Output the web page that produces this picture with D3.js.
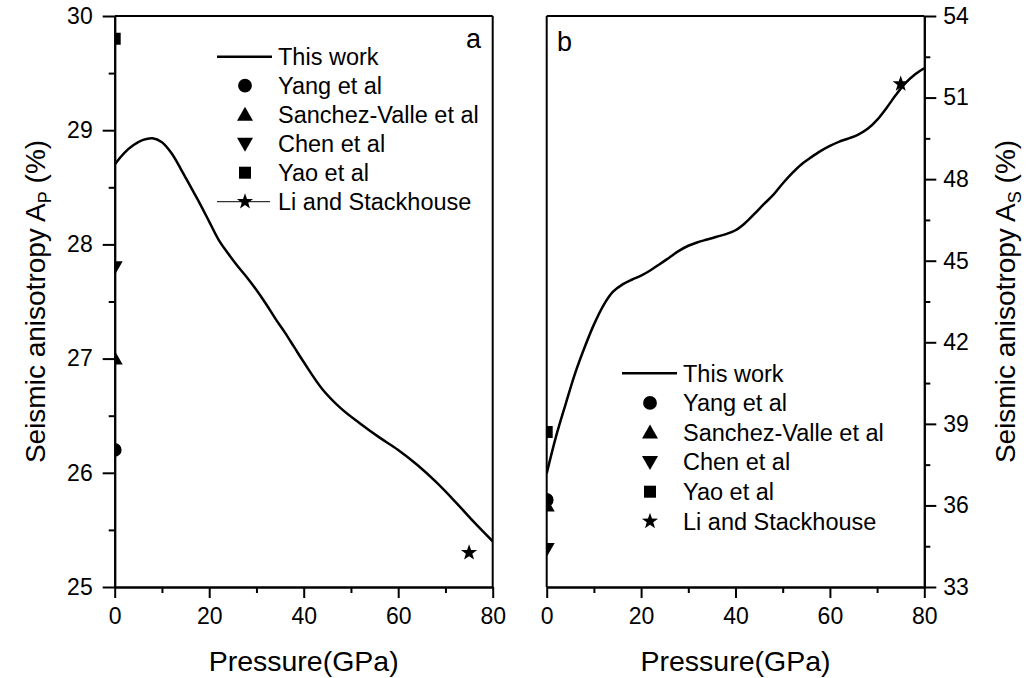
<!DOCTYPE html>
<html>
<head>
<meta charset="utf-8">
<script src="https://cdn.jsdelivr.net/npm/d3@7/dist/d3.min.js"></script>
<style>
  html, body { margin: 0; padding: 0; background: #fff; }
  svg { display: block; font-family: "Liberation Sans", Arial, sans-serif; }
</style>
</head>
<body>
<svg id="chart" width="1033" height="678"></svg>
<script>
// Pressure grid (GPa) for the computed curves
const pressureA = [0, 2, 4, 6, 8, 10, 12, 14, 16, 18, 20, 22, 24, 26, 28, 30, 32, 34, 36, 38, 40, 44, 48, 52, 56, 60, 64, 68, 72, 76, 80];
// P-wave anisotropy A_P (%) of this work
const apThisWork = [28.70, 28.80, 28.87, 28.915, 28.93, 28.895, 28.80, 28.66, 28.51, 28.36, 28.20, 28.04, 27.92, 27.81, 27.71, 27.60, 27.48, 27.35, 27.23, 27.10, 26.97, 26.73, 26.56, 26.43, 26.31, 26.20, 26.07, 25.92, 25.75, 25.57, 25.40];

const pressureB = [0, 2, 4, 6, 8, 10, 12, 14, 16, 18, 20, 22, 24, 26, 28, 30, 32, 34, 36, 38, 40, 42, 44, 46, 48, 50, 52, 54, 56, 58, 60, 62, 64, 66, 68, 70, 72, 74, 76, 78, 80];
// S-wave anisotropy A_S (%) of this work
const asThisWork = [37.18, 38.55, 39.72, 40.85, 41.80, 42.65, 43.35, 43.85, 44.12, 44.30, 44.45, 44.65, 44.88, 45.12, 45.36, 45.55, 45.68, 45.78, 45.88, 45.98, 46.12, 46.38, 46.72, 47.08, 47.42, 47.84, 48.22, 48.55, 48.80, 49.03, 49.22, 49.38, 49.50, 49.64, 49.85, 50.18, 50.62, 51.10, 51.53, 51.85, 52.08];

// Literature values
const refNames = ["Yang et al", "Sanchez-Valle et al", "Chen et al", "Yao et al", "Li and Stackhouse"];
const refSymbols = ["circle", "triangleUp", "triangleDown", "square", "star"];
const refPressure = [0, 0, 0, 0, 75];
const refAP = [26.2, 27.0, 27.8, 29.8, 25.3];
const refAS = [36.2, 36.0, 34.4, 38.7, 51.5];

// Axis ticks
const pressureTicks = [0, 20, 40, 60, 80];
const pressureMinor = [10, 30, 50, 70];
const apTicks = [25, 26, 27, 28, 29, 30];
const apMinor = [25.5, 26.5, 27.5, 28.5, 29.5];
const asTicks = [33, 36, 39, 42, 45, 48, 51, 54];
const asMinor = [34.5, 37.5, 40.5, 43.5, 46.5, 49.5, 52.5];

const svg = d3.select("#chart");
const plotTop = 16, plotBottom = 587;

const xA = d3.scaleLinear().domain([0, 80]).range([114.7, 492.7]);
const yA = d3.scaleLinear().domain([25, 30]).range([plotBottom, plotTop]);
const xB = d3.scaleLinear().domain([0, 80]).range([546.7, 924.3]);
const yB = d3.scaleLinear().domain([33, 54]).range([plotBottom, plotTop]);

// Marker shapes
function markerPath(kind) {
  switch (kind) {
    case "circle": return d3.symbol(d3.symbolCircle, 150)();
    case "square": return "M-6,-6H6V6H-6Z";
    case "triangleUp": return "M0,-8L8,6H-8Z";
    case "triangleDown": return "M0,8L8,-6H-8Z";
    case "star": {
      const pts = [];
      for (let i = 0; i < 10; i++) {
        const r = i % 2 === 0 ? 8.5 : 3.4;
        const a = -Math.PI / 2 + i * Math.PI / 5;
        pts.push([r * Math.cos(a), r * Math.sin(a)]);
      }
      return "M" + pts.map(p => p[0].toFixed(2) + "," + p[1].toFixed(2)).join("L") + "Z";
    }
  }
}

function styleAxis(g, fontSize) {
  g.select(".domain").attr("stroke", "#000").attr("stroke-width", 2);
  g.selectAll(".tick line").attr("stroke", "#000").attr("stroke-width", 2);
  g.selectAll(".tick text").attr("fill", "#000").attr("font-size", fontSize)
    .attr("font-family", "Liberation Sans, Arial, sans-serif");
}

function drawPanel(opts) {
  const { x, y, yTicks, yMinor, yRight, xs, ys, refY, id, letter, letterPos, yTitle, sub, titleX } = opts;
  const g = svg.append("g");
  const x0 = x.range()[0], x1 = x.range()[1];

  g.append("clipPath").attr("id", id).append("rect")
    .attr("x", x0).attr("y", plotTop).attr("width", x1 - x0).attr("height", plotBottom - plotTop);

  // Bottom axis: major + minor
  const bx = g.append("g").attr("transform", `translate(0,${plotBottom})`)
    .call(d3.axisBottom(x).tickValues(pressureTicks).tickSize(11).tickSizeOuter(0).tickPadding(10).tickFormat(d3.format("d")));
  styleAxis(bx, 23);
  const bxm = g.append("g").attr("transform", `translate(0,${plotBottom})`)
    .call(d3.axisBottom(x).tickValues(pressureMinor).tickSize(6).tickSizeOuter(0).tickFormat(""));
  styleAxis(bxm, 23);

  // Value axis
  const yAxis = yRight ? d3.axisRight(y) : d3.axisLeft(y);
  const yAxisMinor = yRight ? d3.axisRight(y) : d3.axisLeft(y);
  const ax = yRight ? x1 : x0;
  const gy = g.append("g").attr("transform", `translate(${ax},0)`)
    .call(yAxis.tickValues(yTicks).tickSize(12).tickSizeOuter(0).tickPadding(yRight ? 7 : 10).tickFormat(d3.format("d")));
  styleAxis(gy, 23);
  const gym = g.append("g").attr("transform", `translate(${ax},0)`)
    .call(yAxisMinor.tickValues(yMinor).tickSize(6).tickSizeOuter(0).tickFormat(""));
  styleAxis(gym, 23);

  // Frame: top edge and opposite side
  const ox = yRight ? x0 : x1;
  g.append("line").attr("x1", x0).attr("x2", x1).attr("y1", plotTop).attr("y2", plotTop)
    .attr("stroke", "#000").attr("stroke-width", 2);
  g.append("line").attr("x1", ox).attr("x2", ox).attr("y1", plotTop).attr("y2", plotBottom)
    .attr("stroke", "#000").attr("stroke-width", 2);

  // Computed curve
  const line = d3.line().x((d, i) => x(xs[i])).y(d => y(d)).curve(d3.curveCatmullRom);
  g.append("path").datum(ys).attr("d", line).attr("fill", "none")
    .attr("stroke", "#000").attr("stroke-width", 2.5).attr("clip-path", `url(#${id})`);

  // Literature points
  g.append("g").attr("clip-path", `url(#${id})`)
    .selectAll("path").data(refNames).join("path")
    .attr("d", (d, i) => markerPath(refSymbols[i]))
    .attr("transform", (d, i) => `translate(${x(refPressure[i])},${y(refY[i])})`)
    .attr("fill", "#000");

  // Panel letter
  g.append("text").attr("x", letterPos[0]).attr("y", letterPos[1])
    .attr("font-size", 27).attr("fill", "#000").text(letter);

  // Axis titles
  g.append("text").attr("x", (x0 + x1) / 2).attr("y", 671).attr("text-anchor", "middle")
    .attr("font-size", 28.5).attr("fill", "#000").text("Pressure(GPa)");

  const t = g.append("text").attr("transform", `translate(${titleX},${(plotTop + plotBottom) / 2}) rotate(-90)`)
    .attr("text-anchor", "middle").attr("font-size", 28).attr("fill", "#000");
  t.append("tspan").text(yTitle);
  t.append("tspan").attr("font-size", 18).attr("dy", 6).text(sub);
  t.append("tspan").attr("dy", -6).text("\u00a0(%)");
  return g;
}

drawPanel({ x: xA, y: yA, yTicks: apTicks, yMinor: apMinor, yRight: false, xs: pressureA, ys: apThisWork,
  refY: refAP, id: "clipA", letter: "a", letterPos: [466, 48], yTitle: "Seismic anisotropy A", sub: "P", titleX: 45 });
drawPanel({ x: xB, y: yB, yTicks: asTicks, yMinor: asMinor, yRight: true, xs: pressureB, ys: asThisWork,
  refY: refAS, id: "clipB", letter: "b", letterPos: [557, 51], yTitle: "Seismic anisotropy A", sub: "S", titleX: 1015 });

// Legends
function drawLegend(lx, ly, step, starWithLine) {
  const g = svg.append("g");
  const rows = ["This work"].concat(refNames);
  rows.forEach((name, i) => {
    const cy = ly + i * step;
    if (i === 0) {
      g.append("line").attr("x1", lx - 28).attr("x2", lx + 27).attr("y1", cy).attr("y2", cy)
        .attr("stroke", "#000").attr("stroke-width", 2.5);
    } else {
      const kind = refSymbols[i - 1];
      if (kind === "star" && starWithLine) {
        g.append("line").attr("x1", lx - 28).attr("x2", lx + 25).attr("y1", cy).attr("y2", cy)
          .attr("stroke", "#000").attr("stroke-width", 1);
      }
      g.append("path").attr("d", markerPath(kind)).attr("transform", `translate(${lx},${cy})`).attr("fill", "#000");
    }
    g.append("text").attr("x", lx + 33).attr("y", cy + 8.3).attr("font-size", 23.5).attr("fill", "#000").text(name);
  });
}
drawLegend(245, 56.7, 29, true);
drawLegend(650, 373.3, 29.6, false);
</script>
</body>
</html>
